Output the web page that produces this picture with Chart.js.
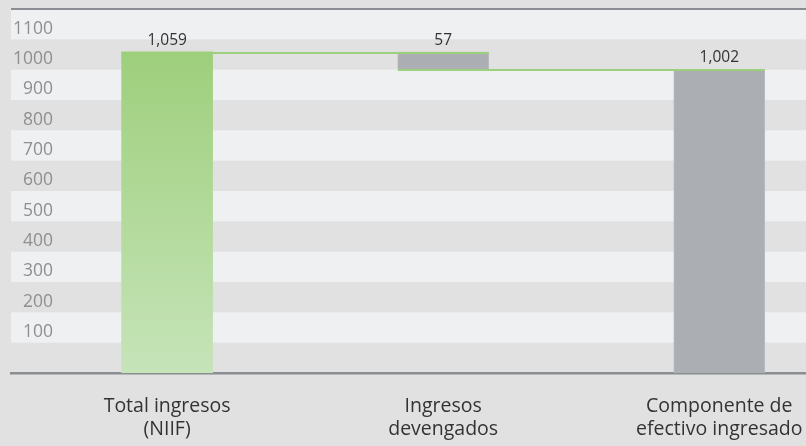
<!DOCTYPE html>
<html>
<head>
<meta charset="utf-8">
<script src="https://cdn.jsdelivr.net/npm/chart.js@4/dist/chart.umd.min.js"></script>
<style>
  html, body { margin: 0; padding: 0; background: #e1e1e1; overflow: hidden; }
  #wrap { width: 830px; height: 446px; }
</style>
</head>
<body>
<div id="wrap"><canvas id="c" width="830" height="446"></canvas></div>
<script>
// ---- data ----
const categories = [["Total ingresos", "(NIIF)"], ["Ingresos", "devengados"], ["Componente de", "efectivo ingresado"]];
const values = [1059, 57, 1002];           // total, decrease, result
const barKinds = ["total", "step", "total"];
const yTickLabels = [100, 200, 300, 400, 500, 600, 700, 800, 900, 1000, 1100];

const ranges = [];
let level = 0;
values.forEach((v, i) => {
  if (barKinds[i] === "total") { ranges.push([0, v]); level = v; }
  else { ranges.push([level - v, level]); level = level - v; }
});
const barData = ranges.map((r, i) => ({ x: i, y: r }));

const GREEN_LINE = '#9dd07c';
const GRAY_BAR = '#abaeb2';
const AXIS_GRAY = '#8a8d92';
const X_MIN = -0.5655, X_MAX = 2.4011;

const bandsPlugin = {
  id: 'bands',
  beforeDraw(chart) {
    const { ctx, chartArea, scales: { y } } = chart;
    ctx.save();
    const ticks = y.ticks;
    for (let i = 1; i < ticks.length; i += 2) {
      const a = y.getPixelForValue(ticks[i].value);
      const b = i + 1 < ticks.length ? y.getPixelForValue(ticks[i + 1].value) : chartArea.top;
      ctx.fillStyle = '#eff0f2';
      ctx.fillRect(chartArea.left, b, chartArea.right - chartArea.left, a - b);
    }
    ctx.fillStyle = AXIS_GRAY;
    ctx.fillRect(chartArea.left, chartArea.top - 1, chartArea.right - chartArea.left, 2);
    ctx.restore();
  }
};

const connectorPlugin = {
  id: 'connectors',
  afterDatasetsDraw(chart) {
    const { ctx, scales: { y } } = chart;
    const meta = chart.getDatasetMeta(0);
    ctx.save();
    ctx.strokeStyle = GREEN_LINE;
    ctx.lineWidth = 2;
    for (let i = 0; i < meta.data.length - 1; i++) {
      const r = ranges[i];
      const lvl = barKinds[i] === 'total' ? r[1] : r[0];
      const b0 = meta.data[i], b1 = meta.data[i + 1];
      const py = Math.round(y.getPixelForValue(lvl)) + 1;
      ctx.beginPath();
      ctx.moveTo(b0.x - b0.width / 2, py);
      ctx.lineTo(b1.x + b1.width / 2, py);
      ctx.stroke();
    }
    ctx.fillStyle = '#333333';
    ctx.font = '15.5px "Open Sans"';
    ctx.textAlign = 'center';
    ctx.textBaseline = 'middle';
    meta.data.forEach((bar, i) => {
      const top = y.getPixelForValue(ranges[i][1]);
      ctx.fillText(values[i].toLocaleString('en-US'), bar.x, top - 11);
    });
    ctx.restore();
  }
};

const ctx = document.getElementById('c').getContext('2d');
new Chart(ctx, {
  type: 'bar',
  data: {
    datasets: [{
      data: barData,
      barThickness: 91,
      backgroundColor: (c) => {
        if (c.dataIndex !== 0) return GRAY_BAR;
        const chart = c.chart;
        const area = chart.chartArea;
        if (!area) return '#a8d38c';
        const yS = chart.scales.y;
        const g = chart.ctx.createLinearGradient(0, yS.getPixelForValue(values[0]), 0, area.bottom);
        g.addColorStop(0, '#9ecf7c');
        g.addColorStop(1, '#c6e4b9');
        return g;
      },
      borderColor: (c) => c.dataIndex === 0 ? 'rgba(0,0,0,0)' : '#b8bbbf',
      borderWidth: (c) => c.dataIndex === 0 ? 0 : { left: 1, right: 1, top: 0, bottom: 0 },
      borderSkipped: false
    }]
  },
  options: {
    responsive: false,
    animation: false,
    layout: { padding: { left: 7, top: 7, right: 0, bottom: 6 } },
    plugins: { legend: { display: false }, tooltip: { enabled: false } },
    scales: {
      x: {
        type: 'linear',
        offset: false,
        bounds: 'data',
        min: X_MIN,
        max: X_MAX,
        afterDataLimits: (s) => { s.min = X_MIN; s.max = X_MAX; },
        afterBuildTicks: (s) => { s.ticks = categories.map((_, i) => ({ value: i })); },
        afterFit: (s) => { s.height = 67; },
        ticks: {
          callback: (v) => categories[v] || '',
          color: '#333333',
          font: { family: 'Open Sans', size: 19.5, lineHeight: 1.18 },
          padding: 22,
          maxRotation: 0,
          minRotation: 0,
          autoSkip: false
        },
        grid: { display: false, drawTicks: false, offset: false },
        border: { display: true, color: AXIS_GRAY, width: 2.5 }
      },
      y: {
        min: 0,
        max: 1200,
        ticks: {
          stepSize: 100,
          autoSkip: false,
          mirror: true,
          crossAlign: 'far',
          padding: 2,
          labelOffset: -10.5,
          color: '#8f8f8f',
          font: { family: 'Open Sans', size: 17.5, lineHeight: 0.8 },
          callback: (v) => yTickLabels.includes(v) ? String(v) : ''
        },
        grid: { display: false, drawTicks: false },
        border: { display: false }
      }
    }
  },
  plugins: [bandsPlugin, connectorPlugin]
});
</script>
</body>
</html>
